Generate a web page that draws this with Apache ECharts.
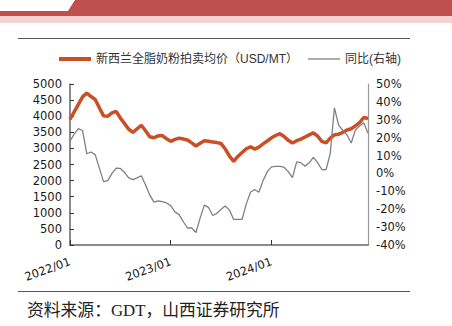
<!DOCTYPE html>
<html>
<head>
<meta charset="utf-8">
<script src="https://cdn.jsdelivr.net/npm/echarts@6/dist/echarts.min.js"></script>
<style>
html,body{margin:0;padding:0;background:#fff;}
#chart{width:452px;height:326px;}
</style>
</head>
<body>
<div id="chart"></div>
<script>
// Categories: GDT auctions, two per month, 2022/01 .. 2024/12
var years = ['2022', '2023', '2024'];
var months = ['01','02','03','04','05','06','07','08','09','10','11','12'];
var categories = [];
years.forEach(function (y) {
  months.forEach(function (m) {
    categories.push(y + '/' + m + '-1');
    categories.push(y + '/' + m + '-2');
  });
});

// 新西兰全脂奶粉拍卖均价 (USD/MT)
var priceValues = [
  3900, 4135, 4365, 4600, 4720, 4610, 4520, 4260, 4010, 4000, 4100, 4150,
  3945, 3770, 3595, 3500, 3610, 3720, 3550, 3360, 3330, 3390, 3400, 3300,
  3220, 3280, 3320, 3290, 3260, 3170, 3075, 3160, 3240, 3220, 3200, 3180,
  3150, 2980, 2760, 2600, 2750, 2870, 2990, 3050, 2980, 3040, 3140, 3230,
  3330, 3400, 3460, 3370, 3250, 3170, 3240, 3290, 3355, 3420, 3485, 3380,
  3220, 3170, 3320, 3420, 3440, 3500, 3570, 3610, 3700, 3800, 3960, 3930
];

// 同比(右轴) (%)
var yoyValues = [
  18, 22, 25, 24, 11, 12, 10.5, 3, -4.6, -4, 0, 3,
  2.8, 0.5, -2.5, -3.5, -2.5, -1.3, -6.5, -12, -16, -15.3, -15.8, -16.5,
  -18, -21.5, -23, -27, -30.5, -30.5, -33, -25, -17.7, -19, -23.5, -22.3,
  -20, -18.2, -20.5, -25.7, -25.7, -25.7, -17, -10.5, -9, -10.5, -4, 1,
  3.7, 4, 4, 3.5, 1, -2.3, 6.5, 6, 4, 6, 9, 6,
  2.2, 2, 11, 36.7, 27, 24, 21.5, 17, 24.3, 26.5, 28.3, 22.4
];

var leftTicks = { min: 0, max: 5000, interval: 500 };
var rightTicks = { min: -40, max: 50, interval: 10 };

var seriesNames = ['新西兰全脂奶粉拍卖均价（USD/MT）', '同比(右轴)'];
var sourceText = '资料来源：GDT，山西证券研究所';

var chart = echarts.init(document.getElementById('chart'), null, { renderer: 'svg' });

var axisFont = { fontFamily: '"DejaVu Sans"', fontSize: 11.5, color: '#1a1a1a' };
var legendFont = { fontFamily: '"Liberation Sans","Noto Sans CJK SC"', fontSize: 12, color: '#333' };

chart.setOption({
  animation: false,
  backgroundColor: '#fff',
  grid: { left: 70, right: 84, top: 84, bottom: 81, containLabel: false },
  legend: [
    {
      left: 54, top: 48, itemWidth: 32, itemHeight: 4, icon: 'rect',
      textStyle: legendFont,
      data: [{ name: seriesNames[0], itemStyle: { color: '#CC4E25' } }]
    },
    {
      left: 303, top: 48, itemWidth: 32, itemHeight: 1.3, icon: 'rect',
      textStyle: legendFont,
      data: [{ name: seriesNames[1], itemStyle: { color: '#808080' } }]
    }
  ],
  xAxis: {
    type: 'category',
    data: categories,
    boundaryGap: false,
    axisLine: { lineStyle: { color: '#666', width: 1.5 } },
    axisTick: { show: true, inside: true, length: 5, interval: 23, lineStyle: { color: '#333' } },
    axisLabel: Object.assign({
      interval: 23, rotate: 20, margin: 16,
      formatter: function (v) { return v.slice(0, 7); }
    }, axisFont),
    splitLine: { show: false }
  },
  yAxis: [
    {
      type: 'value', min: leftTicks.min, max: leftTicks.max, interval: leftTicks.interval,
      axisLine: { show: true, lineStyle: { color: '#666', width: 1.5 } },
      axisTick: { show: true, inside: true, length: 4, lineStyle: { color: '#333' } },
      axisLabel: Object.assign({ margin: 8, formatter: function (v) { return String(v); } }, axisFont),
      splitLine: { show: false }
    },
    {
      type: 'value', min: rightTicks.min, max: rightTicks.max, interval: rightTicks.interval,
      position: 'right',
      axisLine: { show: true, lineStyle: { color: '#999', width: 1.2 } },
      axisTick: { show: false },
      axisLabel: Object.assign({ margin: 8, formatter: '{value}%' }, axisFont),
      splitLine: { show: false }
    }
  ],
  series: [
    {
      name: seriesNames[0], type: 'line', yAxisIndex: 0,
      data: priceValues, symbol: 'none', smooth: false,
      lineStyle: { color: '#CC4E25', width: 3.5 },
      itemStyle: { color: '#CC4E25' }, z: 2
    },
    {
      name: seriesNames[1], type: 'line', yAxisIndex: 1,
      data: yoyValues, symbol: 'none', smooth: false,
      lineStyle: { color: '#808080', width: 1.3 },
      itemStyle: { color: '#808080' }, z: 3
    }
  ],
  graphic: [
    { type: 'rect', shape: { x: 0, y: 0, width: 452, height: 16 }, style: { fill: '#C0504D' }, silent: true },
    { type: 'polygon', shape: { points: [[0, 0], [75, 0], [68, 11], [0, 11]] }, style: { fill: '#fff' }, silent: true },
    { type: 'rect', shape: { x: 0, y: 16, width: 452, height: 7 }, style: { fill: '#F2D3D2' }, silent: true },
    { type: 'line', shape: { x1: 18, y1: 38.5, x2: 410, y2: 38.5 }, style: { stroke: '#555', lineWidth: 1 }, silent: true },
    { type: 'line', shape: { x1: 18, y1: 291.5, x2: 410, y2: 291.5 }, style: { stroke: '#555', lineWidth: 1 }, silent: true },
    {
      type: 'text', left: 27, top: 302, silent: true,
      style: { text: sourceText, fontFamily: '"Liberation Serif","Noto Sans CJK SC"', fontSize: 16.8, fill: '#222' }
    }
  ]
});
</script>
</body>
</html>
